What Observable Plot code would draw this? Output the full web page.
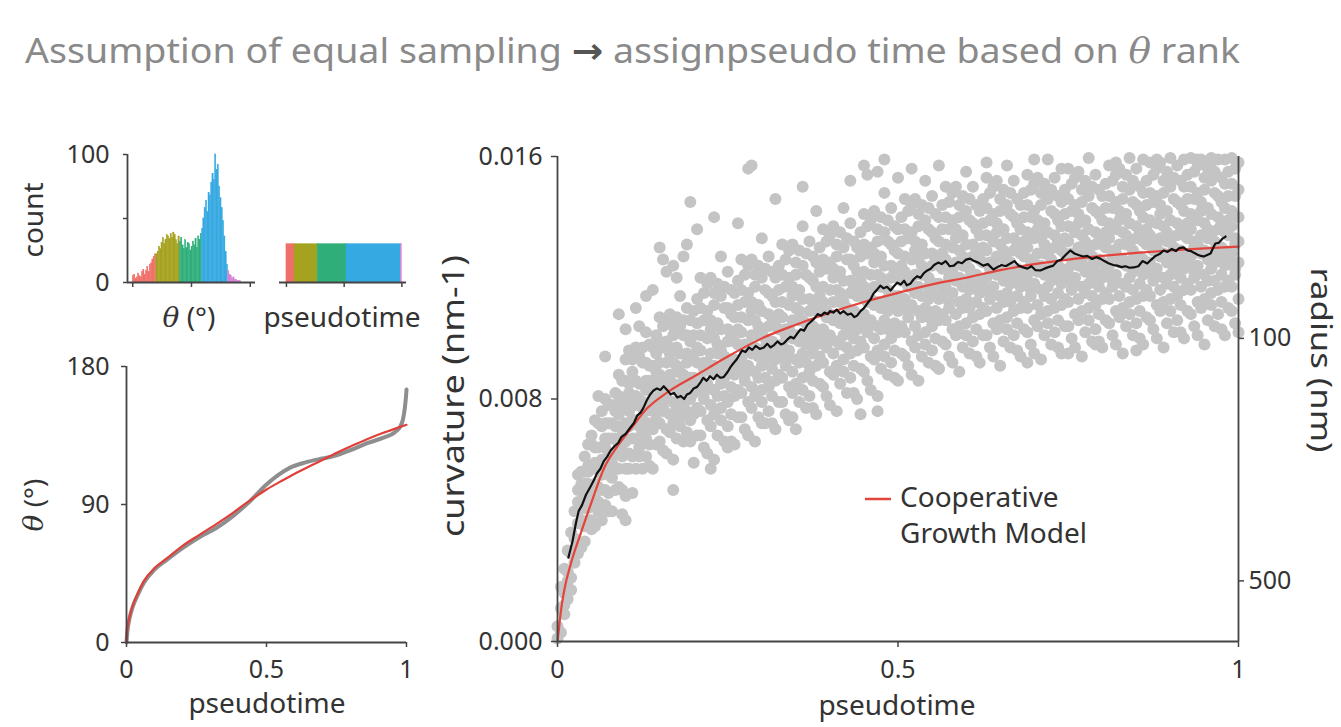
<!DOCTYPE html>
<html><head><meta charset="utf-8">
<script src="https://cdn.jsdelivr.net/npm/d3@7"></script>
<script src="https://cdn.jsdelivr.net/npm/@observablehq/plot@0.6"></script>
<style>
body{margin:0;background:#fff;}
#root{position:relative;width:1341px;height:727px;overflow:hidden;background:#fff;font-family:"Noto Sans",sans-serif;}
#root svg{position:absolute;}
</style></head><body><div id="root"></div>
<script>
// ---------- DATA ----------
// Histogram of theta (2° bins starting at 0°)
const thetaBinWidth = 2;
const histCounts = [
  5,6,3,4,7,5,4,8,10,6,9,12,8,14,15,18,20,22,
  22,24,28,26,31,35,30,33,37,36,34,38,35,39,37,33,30,36,
  32,35,29,26,33,27,31,30,25,28,32,29,34,27,36,33,38,
  42,50,58,64,55,70,68,78,85,80,100,88,92,75,66,58,48,36,24,14,
  9,6,5,3,4,2,2,1,1,1
];
const thetaSegBreaks = [0,36,72,106,146,166];
const segColors = ["#ef6f68","#a5a21f","#2fae7a","#35a9e1","#d77fd6"];
const pseudoSegBreaks = [0,0.07,0.27,0.52,0.99,1];
const pseudoBarCount = 30;
const thetaTicks = [0,90,180];
const countTicks = [0,50,100];

// theta vs pseudotime (bottom-left)
const thetaObserved = [[0,0],[0.003,7],[0.01,15],[0.02,22],[0.04,31],[0.062,39],[0.1,47.5],[0.145,54],[0.2,61.5],[0.263,69],[0.322,74.8],[0.38,82.4],[0.44,92],[0.5,103],[0.54,109],[0.583,113.9],[0.64,117.5],[0.7,120],[0.737,121.4],[0.8,125.5],[0.86,130],[0.915,133.4],[0.962,137.7],[0.978,141],[0.988,146],[0.994,153],[0.998,160],[1,165]];
const thetaModel = [[0,0],[0.003,8],[0.01,16],[0.02,22.8],[0.04,32],[0.062,40],[0.1,48.5],[0.145,55],[0.2,63],[0.263,70.5],[0.322,77.4],[0.38,84.6],[0.44,92.5],[0.5,99.8],[0.56,106],[0.618,111.7],[0.68,117.3],[0.737,122.5],[0.8,127.8],[0.855,132.3],[0.915,136.6],[0.96,139.5],[1,142]];
const pseudoTicks = [0,0.5,1];

// curvature (x 1e-3 nm^-1) scatter, grouped by pseudotime
const scatterGroups = [
[0.000,[0.1,0.5]],[0.005,[0.3,1.1,1.8]],[0.010,[0.9,1.6,2.4,1.2]],[0.015,[1.4,2.3,3.0,2.0]],
[0.020,[2.1,2.9,3.6,1.7]],[0.025,[2.6,3.4,4.3,3.0]],
[0.030,[3.9,4.3,3.3,4.6,2.9,5.0,5.5]],[0.035,[4.5,4.0,5.2,3.9,5.6,3.1,4.4]],
[0.040,[4.4,4.8,3.8,5.6,5.2,3.3,6.1]],[0.045,[5.2,4.9,5.6,4.4,4.0,6.5,5.8]],
[0.050,[5.1,5.8,4.6,6.5,4.0,6.8,3.7]],[0.055,[5.9,5.2,4.7,6.4,7.3,3.8,5.7]],
[0.060,[5.1,5.9,6.4,4.6,7.2,4.3,8.1]],[0.065,[6.0,5.5,7.1,5.0,4.0,7.6,5.7]],
[0.070,[5.8,6.4,5.0,6.7,7.2,4.5,8.0,9.4]],[0.075,[6.7,6.2,5.5,7.2,4.9,7.8,4.3]],
[0.080,[6.2,6.7,7.8,5.4,5.9,7.2,4.3]],[0.085,[6.7,6.2,5.7,7.6,8.2,5.0,7.1]],
[0.090,[6.5,7.1,5.7,7.5,5.1,8.1,8.8,10.8]],[0.095,[7.0,6.3,7.9,6.1,8.6,5.0,6.8,4.2]],
[0.100,[6.6,7.2,5.7,8.6,7.8,4.8,9.3,4.0,10.3]],[0.105,[7.6,7.1,8.2,6.2,5.7,9.6,8.5]],
[0.110,[7.3,8.1,6.7,8.9,6.1,9.3,4.9]],[0.115,[8.1,7.3,6.7,8.6,9.7,5.7,7.8,11.0]],
[0.120,[7.1,8.0,8.5,6.4,9.4,6.1,10.4]],[0.125,[7.9,7.3,9.2,6.9,5.7,9.7,7.7]],
[0.130,[7.6,8.3,6.7,8.6,9.2,6.1,10.2,11.4]],[0.135,[8.6,7.9,7.2,9.1,6.5,9.8,5.8]],
[0.140,[8.0,8.4,9.7,7.0,7.6,9.1,5.7,11.6]],[0.145,[8.5,7.8,7.3,9.5,10.1,6.5,8.9]],
[0.150,[8.1,8.8,7.2,9.2,6.6,9.9,10.7,13.0]],[0.155,[8.5,7.7,9.7,7.6,10.4,6.3,8.4,12.6]],
[0.160,[8.0,8.6,7.0,9.9,9.2,6.2,10.6,12.2]],[0.165,[8.8,8.4,9.5,7.5,6.9,10.8,9.7]],
[0.170,[8.5,9.2,7.9,10.1,7.2,10.4,6.0,5.0,12.4]],[0.175,[9.1,8.3,7.7,9.7,10.7,6.7,8.9,12.0]],
[0.180,[8.0,8.9,9.5,7.4,10.4,7.1,11.4]],[0.185,[8.8,8.2,10.1,7.8,6.6,10.6,8.6,12.7]],
[0.190,[8.5,9.2,7.6,9.5,10.1,6.9,11.0,13.1]],[0.195,[9.4,8.7,8.0,9.9,7.3,10.6,6.6,14.5]],
[0.200,[8.7,9.3,10.9,7.5,8.2,10.1,5.9]],[0.205,[9.2,8.4,7.7,10.5,11.3,6.8,9.7]],
[0.210,[8.7,9.6,7.6,10.1,6.8,11.0,12.0]],[0.215,[9.2,8.2,10.6,8.0,11.5,6.4,9.0]],
[0.220,[8.5,9.2,7.3,10.9,10.0,6.2,11.8]],[0.225,[9.5,8.9,10.3,7.8,7.1,12.0,10.6]],
[0.230,[9.1,10.0,8.3,11.1,7.5,11.5,6.0]],[0.235,[9.8,8.8,8.1,10.5,11.8,6.8,9.5]],
[0.240,[8.5,9.6,10.3,7.7,11.4,7.3,12.7]],[0.245,[9.4,8.7,11.0,8.1,6.6,11.7,9.1]],
[0.250,[9.0,9.9,7.9,10.3,11.0,7.1,12.2]],[0.255,[10.1,9.3,8.4,10.8,7.5,11.6,6.6]],
[0.260,[9.3,9.9,11.5,8.1,8.8,10.7,6.5]],[0.265,[9.8,9.0,8.3,11.1,11.9,7.4,10.3]],
[0.270,[9.3,10.2,8.2,10.7,7.4,11.6,12.6]],[0.275,[9.8,8.8,11.2,8.6,12.1,7.0,9.6]],
[0.280,[9.1,9.8,7.9,11.5,10.6,6.8,12.4]],[0.285,[10.1,9.5,10.9,8.4,7.7,12.6,11.2]],
[0.290,[9.7,10.6,8.9,11.7,8.1,12.1,6.6]],[0.295,[10.4,9.4,8.7,11.1,12.4,7.4,10.1]],
[0.300,[9.1,10.2,10.9,8.3,12.0,7.9,13.3]],[0.305,[10.0,9.3,11.6,8.7,7.2,12.3,9.7]],
[0.310,[9.5,10.4,8.4,10.8,11.5,7.6,12.7]],[0.315,[10.7,9.9,9.0,11.4,8.1,12.2,7.2]],
[0.320,[9.8,10.4,12.0,8.6,9.3,11.2,7.0]],[0.325,[10.3,9.5,8.8,11.6,12.4,7.9,10.8]],
[0.330,[9.8,10.7,8.7,11.2,7.9,12.1,13.1]],[0.335,[10.3,9.3,11.7,9.1,12.6,7.5,10.1]],
[0.340,[9.6,10.3,8.4,12.0,11.1,7.3,12.9]],[0.345,[10.6,10.0,11.4,8.9,8.2,13.1,11.7]],
[0.350,[10.1,11.0,9.3,12.1,8.5,12.5,7.0]],[0.355,[10.9,9.9,9.2,11.6,12.9,7.9,10.6]],
[0.360,[9.5,10.6,11.3,8.7,12.4,8.3,13.7]],[0.365,[10.5,9.8,12.1,9.2,7.7,12.8,10.2]],
[0.370,[10.0,10.9,8.9,11.3,12.0,8.1,13.2]],[0.375,[11.2,10.4,9.5,11.9,8.6,12.7,7.7]],
[0.380,[10.3,10.9,12.5,9.1,9.8,11.7,7.5]],[0.385,[10.9,10.1,9.4,12.2,13.0,8.5,11.4]],
[0.390,[10.3,11.2,9.2,11.7,8.4,12.6,13.6]],[0.395,[10.9,9.9,12.3,9.7,13.2,8.1,10.7]],
[0.400,[10.1,10.8,8.9,12.5,11.6,7.8,13.4]],[0.405,[11.2,10.6,12.0,9.5,8.8,13.7,12.3]],
[0.410,[10.7,11.6,9.9,12.7,9.1,13.1,7.6]],[0.415,[11.5,10.5,9.8,12.2,13.5,8.5,11.2]],
[0.420,[10.1,11.2,11.9,9.3,13.0,8.9,14.3]],[0.425,[11.0,10.3,12.6,9.7,8.2,13.3,10.7]],
[0.430,[10.6,11.5,9.5,11.9,12.6,8.7,13.8]],[0.435,[11.7,10.9,10.0,12.4,9.1,13.2,8.2]],
[0.440,[10.8,11.4,13.0,9.6,10.3,12.2,8.0]],[0.445,[11.4,10.6,9.9,12.7,13.5,9.0,11.9]],
[0.450,[10.8,11.7,9.7,12.2,8.9,13.1,14.1]],[0.455,[11.4,10.4,12.8,10.2,13.7,8.6,11.2]],
[0.460,[10.6,11.3,9.4,13.0,12.1,8.3,13.9]],[0.465,[11.7,11.1,12.5,10.0,9.3,14.2,12.8]],
[0.470,[11.2,12.1,10.4,13.2,9.6,13.6,8.1]],[0.475,[12.0,11.0,10.3,12.7,14.0,9.0,11.7]],
[0.480,[10.6,11.7,12.4,9.8,13.5,9.4,14.8]],[0.485,[11.6,10.9,13.2,10.3,8.8,13.9,11.3]],
[0.490,[11.1,12.0,10.0,12.4,13.1,9.2,14.3]],[0.495,[12.2,11.4,10.5,12.9,9.6,13.7,8.7]],
[0.500,[11.4,12.0,13.6,10.2,10.9,12.8,8.6]],[0.505,[11.9,11.1,10.4,13.2,14.0,9.5,12.4]],
[0.510,[11.3,12.2,10.2,12.7,9.4,13.6,14.6]],[0.515,[11.9,10.9,13.3,10.7,14.2,9.1,11.7]],
[0.520,[11.1,11.8,9.9,13.5,12.6,8.8,14.4]],[0.525,[12.1,11.5,12.9,10.4,9.7,14.6,13.2]],
[0.530,[11.7,12.6,10.9,13.7,10.1,14.1,8.6]],[0.535,[12.4,11.4,10.7,13.1,14.4,9.4,12.1]],
[0.540,[11.0,12.1,12.8,10.2,13.9,9.8,15.2]],[0.545,[12.0,11.3,13.6,10.7,9.2,14.3,11.7]],
[0.550,[11.5,12.4,10.4,12.8,13.5,9.6,14.7]],[0.555,[12.6,11.8,10.9,13.3,10.0,14.1,9.1]],
[0.560,[11.8,12.4,14.0,10.6,11.3,13.2,9.0]],[0.565,[12.3,11.5,10.8,13.6,14.4,9.9,12.8]],
[0.570,[11.7,12.6,10.6,13.1,9.8,14.0,15.0]],[0.575,[12.2,11.2,13.6,11.0,14.5,9.4,12.0]],
[0.580,[11.5,12.2,10.3,13.9,13.0,9.2,14.8]],[0.585,[12.5,11.9,13.3,10.8,10.1,15.0,13.6]],
[0.590,[12.0,12.9,11.2,14.0,10.4,14.4,8.9]],[0.595,[12.7,11.7,11.0,13.4,14.7,9.7,12.4]],
[0.600,[11.3,12.4,13.1,10.5,14.2,10.1,15.5]],[0.605,[12.3,11.6,13.9,11.0,9.5,14.6,12.0]],
[0.610,[11.8,12.7,10.7,13.1,13.8,9.9,15.0]],[0.615,[12.9,12.1,11.2,13.6,10.3,14.4,9.4]],
[0.620,[12.0,12.6,14.2,10.8,11.5,13.4,9.2]],[0.625,[12.5,11.7,11.0,13.8,14.6,10.1,13.0]],
[0.630,[12.0,12.9,10.9,13.4,10.1,14.3,15.3]],[0.635,[12.5,11.5,13.9,11.3,14.8,9.7,12.3]],
[0.640,[11.7,12.4,10.5,14.1,13.2,9.4,15.0]],[0.645,[12.7,12.1,13.5,11.0,10.3,15.2,13.8]],
[0.650,[12.2,13.1,11.4,14.2,10.6,14.6,9.1]],[0.655,[12.9,11.9,11.2,13.6,14.9,9.9,12.6]],
[0.660,[11.5,12.6,13.3,10.7,14.4,10.3,15.7]],[0.665,[12.5,11.8,14.1,11.2,9.7,14.8,12.2]],
[0.670,[12.0,12.9,10.9,13.3,14.0,10.1,15.2]],[0.675,[13.1,12.3,11.4,13.8,10.5,14.6,9.6]],
[0.680,[12.2,12.8,14.4,11.0,11.7,13.6,9.4]],[0.685,[12.7,11.9,11.2,14.0,14.8,10.3,13.2]],
[0.690,[12.1,13.0,11.0,13.5,10.2,14.4,15.4]],[0.695,[12.6,11.6,14.0,11.4,14.9,9.8,12.4]],
[0.700,[11.8,12.5,10.6,14.2,13.3,9.5,15.1]],[0.705,[12.8,12.2,13.6,11.1,10.4,15.3,13.9]],
[0.710,[12.4,13.3,11.6,14.4,10.8,14.8,9.3]],[0.715,[13.1,12.1,11.4,13.8,15.1,10.1,12.8]],
[0.720,[11.7,12.8,13.5,10.9,14.6,10.5,15.9]],[0.725,[12.6,11.9,14.2,11.3,9.8,14.9,12.3]],
[0.730,[12.1,13.0,11.0,13.4,14.1,10.2,15.3]],[0.735,[13.2,12.4,11.5,13.9,10.6,14.7,9.7]],
[0.740,[12.3,12.9,14.5,11.1,11.8,13.7,9.5]],[0.745,[12.8,12.0,11.3,14.1,14.9,10.4,13.3]],
[0.750,[12.3,13.2,11.2,13.7,10.4,14.6,15.6]],[0.755,[12.8,11.8,14.2,11.6,15.1,10.0,12.6]],
[0.760,[12.0,12.7,10.8,14.4,13.5,9.7,15.3]],[0.765,[13.0,12.4,13.8,11.3,10.6,15.5,14.1]],
[0.770,[12.5,13.4,11.7,14.5,10.9,14.9,9.4]],[0.775,[13.2,12.2,11.5,13.9,15.2,10.2,12.9]],
[0.780,[11.8,12.9,13.6,11.0,14.7,10.6,15.95]],[0.785,[12.7,12.0,14.3,11.4,9.9,15.0,12.4]],
[0.790,[12.2,13.1,11.1,13.5,14.2,10.3,15.4]],[0.795,[13.4,12.6,11.7,14.1,10.8,14.9,9.9]],
[0.800,[12.5,13.1,14.7,11.3,12.0,13.9,9.7]],[0.805,[13.0,12.2,11.5,14.3,15.1,10.6,13.5]],
[0.810,[12.4,13.3,11.3,13.8,10.5,14.7,15.7]],[0.815,[12.9,11.9,14.3,11.7,15.2,10.1,12.7]],
[0.820,[12.1,12.8,10.9,14.5,13.6,9.8,15.4]],[0.825,[13.1,12.5,13.9,11.4,10.7,15.6,14.2]],
[0.830,[12.6,13.5,11.8,14.6,11.0,15.0,9.5]],[0.835,[13.4,12.4,11.7,14.1,15.4,10.4,13.1]],
[0.840,[12.0,13.1,13.8,11.2,14.9,10.8,15.95]],[0.845,[12.9,12.2,14.5,11.6,10.1,15.2,12.6]],
[0.850,[12.4,13.3,11.3,13.7,14.4,10.5,15.6]],[0.855,[13.5,12.7,11.8,14.2,10.9,15.0,10.0]],
[0.860,[12.6,13.2,14.8,11.4,12.1,14.0,9.8]],[0.865,[13.1,12.3,11.6,14.4,15.2,10.7,13.6]],
[0.870,[12.5,13.4,11.4,13.9,10.6,14.8,15.8]],[0.875,[13.1,12.1,14.5,11.9,15.4,10.3,12.9]],
[0.880,[12.3,13.0,11.1,14.7,13.8,10.0,15.6]],[0.885,[13.3,12.7,14.1,11.6,10.9,15.8,14.4]],
[0.890,[12.8,13.7,12.0,14.8,11.2,15.2,9.7]],[0.895,[13.5,12.5,11.8,14.2,15.5,10.5,13.2]],
[0.900,[12.1,13.2,13.9,11.3,15.0,10.9,15.95]],[0.905,[13.0,12.3,14.6,11.7,10.2,15.3,12.7]],
[0.910,[12.5,13.4,11.4,13.8,14.5,10.6,15.7]],[0.915,[13.7,12.9,12.0,14.4,11.1,15.2,10.2]],
[0.920,[12.8,13.4,15.0,11.6,12.3,14.2,10.0]],[0.925,[13.3,12.5,11.8,14.6,15.4,10.9,13.8]],
[0.930,[12.7,13.6,11.6,14.1,10.8,15.0,15.95]],[0.935,[13.2,12.2,14.6,12.0,15.5,10.4,13.0]],
[0.940,[12.4,13.1,11.2,14.8,13.9,10.1,15.7]],[0.945,[13.4,12.8,14.2,11.7,11.0,15.9,14.5]],
[0.950,[12.9,13.8,12.1,14.9,11.3,15.3,9.8]],[0.955,[13.6,12.6,11.9,14.3,15.6,10.6,13.3]],
[0.960,[12.3,13.4,14.1,11.5,15.2,11.1,15.95]],[0.965,[13.2,12.5,14.8,11.9,10.4,15.5,12.9]],
[0.970,[12.7,13.6,11.6,14.0,14.7,10.8,15.9]],[0.975,[13.8,13.0,12.1,14.5,11.2,15.3,10.3]],
[0.980,[12.9,13.5,15.1,11.7,12.4,14.3,10.1]],[0.985,[13.4,12.6,11.9,14.7,15.5,11.0,13.9]],
[0.990,[12.8,13.7,11.7,14.2,10.9,15.1,15.95]],[0.995,[13.3,12.3,14.7,12.1,15.6,10.5,13.1]],
[1.000,[12.5,13.2,11.3,14.9,14.0,10.2,15.8]]
];
// scattered outlying cells (pseudotime, curvature x 1e-3)
const scatterOutliers = [[0.205,13.6],[0.23,14.0],[0.265,13.8],[0.28,15.6],[0.285,15.7],[0.32,14.6],[0.36,15.0],[0.38,14.2],[0.43,15.2],[0.45,15.7],[0.455,15.4],[0.47,15.5],[0.48,15.9],[0.50,15.3],[0.52,15.6],[0.56,15.7],[0.63,15.8],[0.70,15.9],[0.74,15.6],[0.82,15.8],[0.86,15.9],[0.88,15.9],[0.92,15.9],[0.94,15.9],[0.96,15.8],[0.98,15.9],
  [0.225,5.7],[0.25,6.4],[0.30,7.2],[0.345,7.4],[0.445,7.5],[0.47,7.6],[0.56,9.0],[0.69,9.2],[0.75,9.5],[0.79,9.8],[0.85,9.6]];
// Cooperative growth model (x 1e-3 nm^-1)
const modelCurve = [[0,0],[0.002,0.4],[0.005,1.0],[0.01,1.7],[0.02,2.6],[0.034,3.56],[0.05,4.6],[0.068,5.7],[0.09,6.5],[0.107,7.0],[0.132,7.7],[0.16,8.2],[0.205,8.8],[0.25,9.4],[0.3,10.0],[0.35,10.45],[0.4,10.85],[0.45,11.2],[0.5,11.5],[0.55,11.78],[0.6,12.0],[0.65,12.25],[0.7,12.45],[0.75,12.6],[0.8,12.72],[0.85,12.82],[0.9,12.9],[0.95,12.97],[1.0,13.03]];
// running mean (x 1e-3 nm^-1)
const runningMean = [[0.016,2.77],[0.022,3.3],[0.027,3.9],[0.031,4.3],[0.036,4.5],[0.042,4.85],[0.047,5.05],[0.053,5.3],[0.058,5.55],[0.063,5.7],[0.068,5.95],[0.073,6.1],[0.078,6.3],[0.084,6.45],[0.089,6.55],[0.094,6.75],[0.1,6.85],[0.107,7.06],[0.112,7.2],[0.117,7.45],[0.122,7.55],[0.126,7.7],[0.131,7.95],[0.136,8.15],[0.141,8.28],[0.146,8.35],[0.151,8.3],[0.156,8.42],[0.161,8.3],[0.166,8.15],[0.171,8.2],[0.176,8.05],[0.181,8.1],[0.186,8.0],[0.19,8.15],[0.195,8.2],[0.2,8.35],[0.205,8.4],[0.21,8.55],[0.214,8.7],[0.219,8.6],[0.224,8.75],[0.229,8.65],[0.234,8.8],[0.239,8.7],[0.244,8.72],[0.25,8.9],[0.254,9.05],[0.258,9.17],[0.263,9.3],[0.267,9.45],[0.271,9.6],[0.276,9.55],[0.281,9.7],[0.286,9.62],[0.291,9.75],[0.297,9.65],[0.303,9.7],[0.308,9.82],[0.313,9.7],[0.318,9.78],[0.323,9.9],[0.328,9.8],[0.332,9.83],[0.337,9.95],[0.342,10.05],[0.347,10.0],[0.352,10.16],[0.357,10.3],[0.362,10.25],[0.367,10.45],[0.372,10.55],[0.377,10.65],[0.382,10.8],[0.387,10.75],[0.392,10.85],[0.397,10.8],[0.4,10.9],[0.405,10.85],[0.41,10.95],[0.415,10.82],[0.42,10.9],[0.426,10.78],[0.431,10.82],[0.436,10.7],[0.44,10.75],[0.445,10.9],[0.45,11.0],[0.455,11.15],[0.46,11.3],[0.464,11.48],[0.469,11.6],[0.474,11.74],[0.479,11.65],[0.484,11.7],[0.489,11.58],[0.494,11.72],[0.499,11.84],[0.504,11.78],[0.509,11.9],[0.513,11.75],[0.518,11.8],[0.523,11.95],[0.528,12.05],[0.533,12.0],[0.538,12.15],[0.543,12.24],[0.548,12.3],[0.553,12.42],[0.559,12.5],[0.564,12.45],[0.57,12.55],[0.576,12.38],[0.582,12.4],[0.588,12.52],[0.594,12.48],[0.6,12.6],[0.606,12.63],[0.612,12.55],[0.618,12.5],[0.625,12.4],[0.632,12.45],[0.64,12.27],[0.646,12.35],[0.652,12.42],[0.658,12.38],[0.665,12.47],[0.671,12.55],[0.677,12.4],[0.684,12.34],[0.69,12.3],[0.696,12.38],[0.702,12.25],[0.709,12.24],[0.715,12.3],[0.721,12.35],[0.728,12.4],[0.734,12.55],[0.74,12.6],[0.746,12.75],[0.753,12.9],[0.759,12.8],[0.765,12.75],[0.772,12.7],[0.778,12.72],[0.785,12.62],[0.791,12.68],[0.797,12.63],[0.803,12.55],[0.809,12.48],[0.816,12.42],[0.822,12.4],[0.828,12.35],[0.834,12.38],[0.84,12.33],[0.846,12.34],[0.853,12.38],[0.859,12.55],[0.866,12.47],[0.872,12.6],[0.878,12.72],[0.884,12.78],[0.89,12.9],[0.896,12.85],[0.902,12.95],[0.908,12.88],[0.913,12.98],[0.919,13.0],[0.925,12.9],[0.93,12.88],[0.934,12.83],[0.94,12.76],[0.945,12.72],[0.949,12.7],[0.954,12.75],[0.959,12.8],[0.963,13.0],[0.966,13.13],[0.971,13.15],[0.976,13.28],[0.981,13.36]];
const curvatureTicks = [0,0.008,0.016];
const radiusTicks = [100,500];

// ---------- BUILD ----------
const root = document.getElementById("root");
const axisColor = "#444";
const baseStyle = {fontFamily:"'Noto Sans', sans-serif", fontSize:"25px", color:"#333", background:"none", overflow:"visible"};
function place(svg, left, top){ svg.style.left = left+"px"; svg.style.top = top+"px"; root.appendChild(svg); }
function segIndex(v, breaks){ for(let i=0;i<breaks.length-2;i++){ if(v < breaks[i+1]) return i; } return breaks.length-2; }

// Histogram
const histData = histCounts.map((c,i)=>({x1:i*thetaBinWidth, x2:(i+1)*thetaBinWidth, c, seg:segIndex(i*thetaBinWidth, thetaSegBreaks)}));
const hist = Plot.plot({
  width:270, height:210, marginLeft:127, marginRight:15, marginTop:24, marginBottom:58,
  x:{domain:[-8,188]}, y:{domain:[0,100]}, style: baseStyle,
  marks:[
    Plot.rect(histData,{x1:"x1",x2:"x2",y1:0,y2:"c",fill:d=>segColors[d.seg],stroke:d=>segColors[d.seg],strokeWidth:0.4,inset:0}),
    Plot.ruleX([-8],{stroke:axisColor,strokeWidth:1.8}),
    Plot.ruleY([0],{stroke:axisColor,strokeWidth:1.8}),
    Plot.axisY({ticks:countTicks, tickFormat:d=>d===50?"":String(d), tickSize:4, tickPadding:14, stroke:axisColor, strokeWidth:1.5, label:null}),
    Plot.axisX({ticks:thetaTicks, tickFormat:()=> "", tickSize:5, stroke:axisColor, strokeWidth:1.5, label:null})
  ]
});
place(hist, 0, 130);

// Pseudotime bar
const barData = segColors.map((col,i)=>({x1:pseudoSegBreaks[i], x2:pseudoSegBreaks[i+1], col}));
const bar = Plot.plot({
  width:160, height:210, marginLeft:9, marginRight:24, marginTop:24, marginBottom:58,
  x:{domain:[-0.06,1.04]}, y:{domain:[0,100], axis:null}, style: baseStyle,
  marks:[
    Plot.rect(barData,{x1:"x1",x2:"x2",y1:0,y2:pseudoBarCount,fill:"col",stroke:"col",strokeWidth:0.4,inset:0}),
    Plot.ruleY([0],{stroke:axisColor,strokeWidth:1.8}),
    Plot.axisX({ticks:pseudoTicks, tickFormat:()=> "", tickSize:5, stroke:axisColor, strokeWidth:1.5, label:null})
  ]
});
place(bar, 270, 130);

// theta vs pseudotime
const tObs = thetaObserved.map(([x,y])=>({x,y}));
const tMod = thetaModel.map(([x,y])=>({x,y}));
const thetaPlot = Plot.plot({
  width:430, height:387, marginLeft:126, marginRight:24, marginTop:26, marginBottom:85,
  x:{domain:[0,1]}, y:{domain:[0,180]}, style: baseStyle,
  marks:[
    Plot.line(tObs,{x:"x",y:"y",stroke:"#8e8e8e",strokeWidth:4,curve:"monotone-x"}),
    Plot.line(tMod,{x:"x",y:"y",stroke:"#e0403a",strokeWidth:2.2,curve:"monotone-x"}),
    Plot.ruleX([0],{stroke:axisColor,strokeWidth:1.8}),
    Plot.ruleY([0],{stroke:axisColor,strokeWidth:1.8}),
    Plot.axisY({ticks:thetaTicks, tickFormat:d=>String(d), tickSize:5, tickPadding:12, stroke:axisColor, strokeWidth:1.5, label:null}),
    Plot.axisX({ticks:pseudoTicks, tickFormat:d=>String(d), tickSize:5, tickPadding:13, stroke:axisColor, strokeWidth:1.5, label:null})
  ]
});
place(thetaPlot, 0, 340);

// Main curvature plot
const scatter = scatterGroups.flatMap(([x, ys]) => ys.map(v => ({x, y: v/1000})))
  .concat(scatterOutliers.map(([x,v])=>({x, y:v/1000})));
const modelPts = modelCurve.map(([x,v])=>({x, y:v/1000}));
const meanPts = runningMean.map(([x,v])=>({x, y:v/1000}));
const main = Plot.plot({
  width:911, height:597, marginLeft:127, marginRight:103, marginTop:26, marginBottom:86,
  x:{domain:[0,1]}, y:{domain:[0,0.016]}, style: baseStyle,
  marks:[
    Plot.dot(scatter,{x:"x",y:"y",r:6,fill:"#c4c4c4"}),
    Plot.line(modelPts,{x:"x",y:"y",stroke:"#e3443c",strokeWidth:2.2,curve:"monotone-x"}),
    Plot.line(meanPts,{x:"x",y:"y",stroke:"#111",strokeWidth:2.2}),
    Plot.ruleX([0],{stroke:axisColor,strokeWidth:1.8}),
    Plot.ruleX([1],{stroke:axisColor,strokeWidth:1.8}),
    Plot.ruleY([0],{stroke:axisColor,strokeWidth:1.8}),
    Plot.axisX({ticks:pseudoTicks, tickFormat:d=>String(d), tickSize:6, tickPadding:13, stroke:axisColor, strokeWidth:1.5, label:null}),
    Plot.axisY({ticks:curvatureTicks, tickFormat:d3.format(".3f"), tickSize:6, tickPadding:9, stroke:axisColor, strokeWidth:1.5, label:null}),
    Plot.axisY({anchor:"right", ticks:radiusTicks.map(r=>1/r), tickFormat:d=>String(Math.round(1/d)), tickSize:5, tickPadding:5, stroke:axisColor, strokeWidth:1.5, label:null})
  ]
});
place(main, 430, 130);

// Overlay texts (titles, axis labels, legend)
const ov = d3.create("svg").attr("width",1341).attr("height",727)
  .style("left","0px").style("top","0px").style("overflow","visible")
  .attr("font-family","'Noto Sans', sans-serif");
const title = ov.append("text").attr("x",25).attr("y",63).attr("font-size",35).attr("fill","#8a8a8a")
  .attr("textLength",1215).attr("lengthAdjust","spacingAndGlyphs");
title.append("tspan").text("Assumption of equal sampling ");
title.append("tspan").attr("fill","#555").attr("font-family","'DejaVu Sans'").attr("font-weight","bold").text("→");
title.append("tspan").text(" assignpseudo time based on ");
title.append("tspan").attr("font-family","'DejaVu Serif', serif").attr("font-style","italic").text("θ");
title.append("tspan").text(" rank");

function label(txt, x, y, opts={}){
  const t = ov.append("text").attr("x",x).attr("y",y).attr("text-anchor","middle")
    .attr("font-size",opts.size||28).attr("fill","#333");
  if(opts.rotate) t.attr("transform",`rotate(${opts.rotate},${x},${y})`).attr("dominant-baseline","central");
  if(opts.len) t.attr("textLength",opts.len).attr("lengthAdjust","spacingAndGlyphs");
  if(opts.theta){
    t.append("tspan").attr("font-family","'DejaVu Serif', serif").attr("font-style","italic").text("θ");
    t.append("tspan").text(" (°)");
  } else t.text(txt);
  return t;
}
label("count", 32, 220, {rotate:-90});
label("", 189, 327, {theta:true});
label("pseudotime", 342, 327);
label("", 33, 505, {rotate:-90, theta:true});
label("pseudotime", 267, 713);
label("curvature (nm-1)", 452, 396, {rotate:-90, size:30, len:282});
label("pseudotime", 897, 715);
label("radius (nm)", 1322, 360, {rotate:90, size:29, len:185});

// legend
ov.append("line").attr("x1",865).attr("x2",891).attr("y1",499).attr("y2",499).attr("stroke","#e3443c").attr("stroke-width",2.5);
ov.append("text").attr("x",900).attr("y",507).attr("font-size",28).attr("fill","#333").text("Cooperative");
ov.append("text").attr("x",900).attr("y",543).attr("font-size",28).attr("fill","#333").text("Growth Model");
root.appendChild(ov.node());
</script></body></html>
